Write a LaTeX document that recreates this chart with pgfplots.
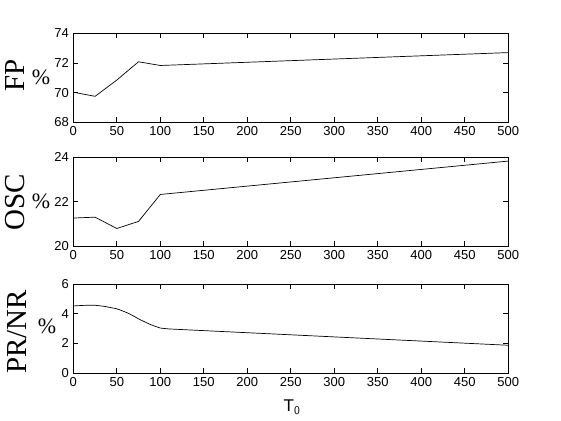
\documentclass[border=0pt]{standalone}
\usepackage{fontspec}
\setmainfont{Liberation Sans}
\newfontfamily\timesf{Liberation Serif}
\usepackage{pgfplots}
\pgfplotsset{compat=1.18}

\pgfplotsset{
  panel/.style={
    scale only axis, width=435pt, height=89pt,
    anchor=north west,
    xmin=0, xmax=500, xtick={0,50,...,500},
    tick align=inside, tick pos=both,
    major tick length=5pt,
    axis line style={line width=0.8pt}, every tick/.style={line width=0.8pt, black},
    ticklabel style={font=\fontsize{13}{13}\selectfont},
    /pgf/number format/assume math mode=true,
    xticklabel style={yshift=-1pt},
    yticklabel style={xshift=-1pt},
  },
}

\begin{document}
\begin{tikzpicture}[x=1pt,y=1pt]
\path[use as bounding box] (0,0) rectangle (561,-420);

% FP
\begin{axis}[panel, at={(73.3pt,-33.3pt)}, ymin=68, ymax=74, ytick={68,70,72,74}]
\addplot[black, line width=0.7pt] coordinates {
  (0,70.03)(25,69.75)(50,70.85)(75,72.08)(100,71.83)(500,72.70)
};
\end{axis}

% OSC
\begin{axis}[panel, at={(73.3pt,-157.3pt)}, ymin=20, ymax=24, ytick={20,22,24}]
\addplot[black, line width=0.7pt] coordinates {
  (0,21.27)(25,21.31)(50,20.80)(75,21.12)(100,22.33)(500,23.83)
};
\end{axis}

% PR/NR
\begin{axis}[panel, at={(73.3pt,-284pt)}, ymin=0, ymax=6, ytick={0,2,4,6}]
\addplot[black, line width=0.7pt] coordinates {
  (0,4.52)(12,4.56)(25,4.57)(37,4.48)(50,4.33)(56,4.20)(62,4.06)(69,3.85)
  (75,3.65)(81,3.48)(87,3.31)(94,3.15)(100,3.03)(110,2.97)(500,1.87)
};
\end{axis}

\node[rotate=90, font=\timesf\fontsize{29}{29}\selectfont] at (15,-75) {FP};
\node[font=\timesf\fontsize{22}{22}\selectfont] at (41,-77) {\%};
\node[rotate=90, font=\timesf\fontsize{29}{29}\selectfont] at (15,-202) {OSC};
\node[font=\timesf\fontsize{22}{22}\selectfont] at (41,-201) {\%};
\node[rotate=90, font=\timesf\fontsize{29}{29}\selectfont] at (17,-332) {PR/NR};
\node[font=\timesf\fontsize{22}{22}\selectfont] at (47,-326) {\%};
\node[font=\fontsize{17}{17}\selectfont] at (292,-407) {T$_{\mathsf{0}}$};
\end{tikzpicture}
\end{document}
